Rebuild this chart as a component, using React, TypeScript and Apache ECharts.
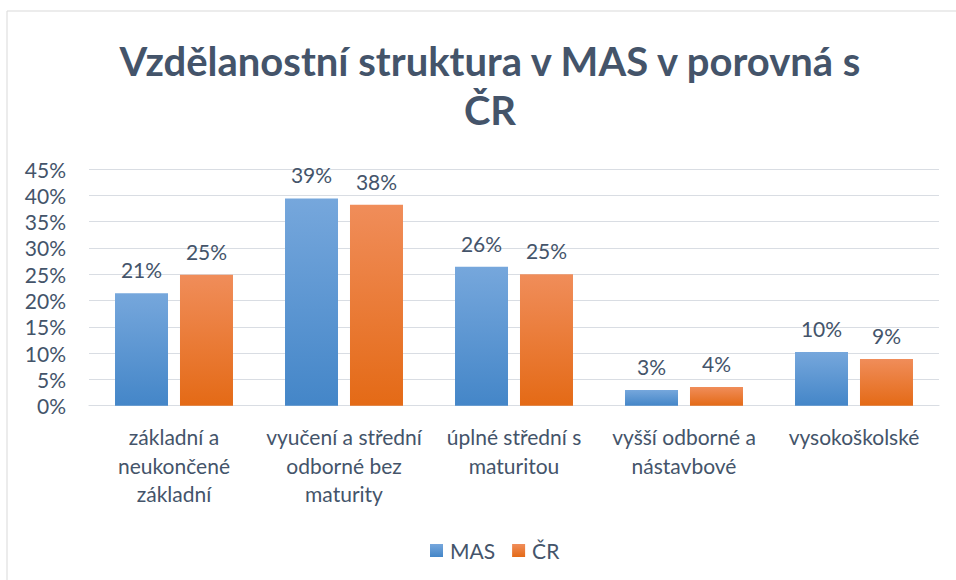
import React, { useEffect, useRef } from "react";
import * as echarts from "echarts";

const categories = [
  "základní a neukončené základní",
  "vyučení a střední odborné bez maturity",
  "úplné střední s maturitou",
  "vyšší odborné a nástavbové",
  "vysokoškolské",
];
const categoryLabels = [
  "základní a\nneukončené\nzákladní",
  "vyučení a střední\nodborné bez\nmaturity",
  "úplné střední s\nmaturitou",
  "vyšší odborné a\nnástavbové",
  "vysokoškolské",
];
const masValues = [21.4, 39.4, 26.4, 3.0, 10.2];
const crValues = [24.9, 38.2, 25.0, 3.55, 8.9];
const titleLines = ["Vzdělanostní struktura v MAS v porovná s", "ČR"];

const TEXT = "#44546A";
const FONT = "Lato";

const grad = (top: string, bottom: string) =>
  new echarts.graphic.LinearGradient(0, 0, 0, 1, [
    { offset: 0, color: top },
    { offset: 1, color: bottom },
  ]);

export default function App() {
  const ref = useRef<HTMLDivElement>(null);
  useEffect(() => {
    document.body.style.margin = "0";
    const chart = echarts.init(ref.current!, undefined, { renderer: "svg" });
    const label = {
      show: true,
      position: "top" as const,
      distance: 13,
      color: TEXT,
      fontFamily: FONT,
      fontSize: 21,
      formatter: (p: any) => Math.round(p.value) + "%",
    };
    chart.setOption({
      animation: false,
      backgroundColor: "#ffffff",
      textStyle: { fontFamily: FONT, color: TEXT },
      graphic: [
        {
          type: "rect",
          shape: { x: 7, y: 11, width: 970, height: 600 },
          style: { fill: "none", stroke: "#D9D9D9", lineWidth: 1 },
          silent: true,
        },
        {
          type: "text",
          x: 490,
          y: 61,
          style: {
            text: titleLines[0],
            fill: TEXT,
            fontFamily: FONT,
            fontWeight: "bold",
            fontSize: 40,
            textAlign: "center",
            textVerticalAlign: "middle",
          },
        },
        {
          type: "text",
          x: 490,
          y: 110,
          style: {
            text: titleLines[1],
            fill: TEXT,
            fontFamily: FONT,
            fontWeight: "bold",
            fontSize: 40,
            textAlign: "center",
            textVerticalAlign: "middle",
          },
        },
      ],
      legend: {
        data: ["MAS", "ČR"],
        left: 430,
        top: 540,
        padding: 0,
        itemWidth: 13,
        itemHeight: 13,
        itemGap: 17,
        icon: "rect",
        textStyle: { color: TEXT, fontFamily: FONT, fontSize: 21, padding: [0, 0, 0, 2] },
      },
      grid: { left: 89, right: 17, top: 169, bottom: 174.3, containLabel: false },
      xAxis: {
        type: "category",
        data: categories,
        axisLine: { show: true, lineStyle: { color: "#D9DDE3", width: 1.2 } },
        axisTick: { show: false },
        axisLabel: {
          color: TEXT,
          fontFamily: FONT,
          fontSize: 21,
          lineHeight: 28.5,
          margin: 17,
          interval: 0,
          formatter: (_v: string, i: number) => categoryLabels[i],
        },
      },
      yAxis: {
        type: "value",
        min: 0,
        max: 45,
        interval: 5,
        axisLine: { show: false },
        axisTick: { show: false },
        splitLine: { lineStyle: { color: "#D9DDE3", width: 1.2 } },
        axisLabel: {
          color: TEXT,
          fontFamily: FONT,
          fontSize: 21,
          margin: 23,
          formatter: (v: number) => v + "%",
        },
      },
      series: [
        {
          name: "MAS",
          type: "bar",
          data: masValues,
          barWidth: 53,
          barGap: "22.6%",
          itemStyle: { color: grad("#76A7DC", "#4486C8") },
          label,
        },
        {
          name: "ČR",
          type: "bar",
          data: crValues,
          barWidth: 53,
          barGap: "22.6%",
          itemStyle: { color: grad("#F08D5A", "#E46A16") },
          label,
        },
      ],
    });
    return () => chart.dispose();
  }, []);
  return <div ref={ref} style={{ width: 956, height: 580 }} />;
}
